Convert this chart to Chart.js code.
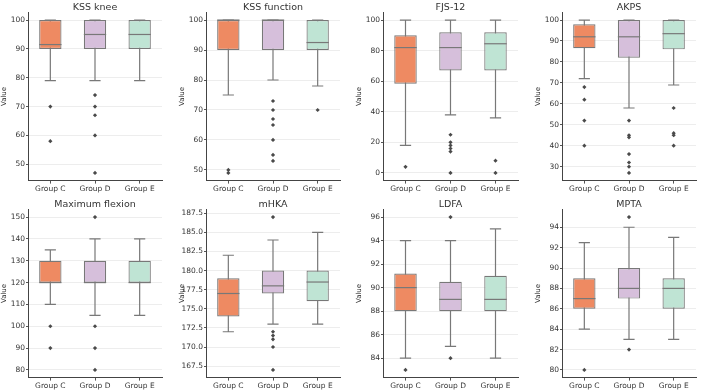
<!DOCTYPE html>
<html>
<head>
<meta charset="utf-8">
<script src="https://cdn.jsdelivr.net/npm/chart.js@4"></script>
<style>
  html, body { margin: 0; padding: 0; background: #fff; overflow: hidden; }
  #wrap { position: relative; width: 702px; height: 390px; }
  canvas { position: absolute; }
</style>
</head>
<body>
<div id="wrap"></div>
<script>
// groups on x axis
var groups = ['Group C', 'Group D', 'Group E'];

// one entry per panel (top row then bottom row)
var titles = ['KSS knee', 'KSS function', 'FJS-12', 'AKPS', 'Maximum flexion', 'mHKA', 'LDFA', 'MPTA'];
var tickSteps = [10, 10, 20, 10, 10, 2.5, 2, 2];

var q1 = [
	[90, 90, 90], [90, 90, 90], [58.3, 67, 67], [86.5, 82, 86],
	[120, 120, 120], [174, 177, 176], [88, 88, 88], [86, 87, 86]
];
var medians = [
	[91.5, 95, 95], [100, 100, 92.5], [82, 82, 84.5], [92, 92, 93.5],
	[120, 120, 120], [177, 178, 178.5], [90, 89, 89], [87, 88, 88]
];
var q3 = [
	[100, 100, 100], [100, 100, 100], [90, 92, 92], [98, 100, 100],
	[130, 130, 130], [179, 180, 180], [91.2, 90.5, 91], [89, 90, 89]
];
var whiskLow = [
	[79, 79, 79], [75, 80, 78], [18, 38, 36], [72, 58, 69],
	[110, 105, 105], [172, 173, 173], [84, 85, 84], [84, 83, 83]
];
var whiskHigh = [
	[100, 100, 100], [100, 100, 100], [100, 100, 100], [100, 100, 100],
	[135, 140, 140], [182, 184, 185], [94, 94, 95], [92.5, 94, 93]
];
var outliers = [
	[[70, 58], [74, 70, 67, 60, 47], []],
	[[50, 49], [73, 70, 67, 65, 60, 55, 53], [70]],
	[[4], [25, 20, 18, 16, 14, 0], [8, 0]],
	[[68, 62, 52, 40], [52, 45, 44, 36, 32, 30, 27], [58, 46, 45, 40]],
	[[100, 90], [150, 100, 90, 80], []],
	[[], [187, 172, 171.5, 171, 170, 167], []],
	[[83], [96, 84], []],
	[[80], [95, 82], []]
];

var boxColors = ['#ee8a62', '#d6bfdb', '#bfe4d4'];
var lineGray = '#787878';
var font = 'DejaVu Sans';

// panel placement: x of y-axis line, right end of plot, top of canvas
var axisX = [28, 206, 383, 562, 28, 206, 383, 562];
var plotRight = [166, 344, 522, 700, 166, 344, 522, 700];
var rowTop = [0, 0, 0, 0, 197, 197, 197, 197];
var yAxisW = 28;
var canvasH = 195;

// whiskers behind boxes, medians on top, title centred over the plot
var boxPlugin = {
	id: 'boxParts',
	beforeDatasetsDraw: function(chart, args, opts) {
		var p = opts.panel;
		var ctx = chart.ctx;
		var meta = chart.getDatasetMeta(0);
		var ys = chart.scales.y;
		ctx.save();
		ctx.strokeStyle = lineGray;
		ctx.lineWidth = 1.2;
		meta.data.forEach(function(bar, i) {
			var cx = bar.x;
			var half = bar.width / 4;
			var lo = ys.getPixelForValue(whiskLow[p][i]);
			var hi = ys.getPixelForValue(whiskHigh[p][i]);
			ctx.beginPath();
			ctx.moveTo(cx, lo); ctx.lineTo(cx, hi);
			ctx.moveTo(cx - half, lo); ctx.lineTo(cx + half, lo);
			ctx.moveTo(cx - half, hi); ctx.lineTo(cx + half, hi);
			ctx.stroke();
		});
		ctx.restore();
	},
	afterDatasetsDraw: function(chart, args, opts) {
		var p = opts.panel;
		var ctx = chart.ctx;
		var meta = chart.getDatasetMeta(0);
		var ys = chart.scales.y;
		ctx.save();
		ctx.strokeStyle = lineGray;
		ctx.lineWidth = 1.2;
		meta.data.forEach(function(bar, i) {
			var m = ys.getPixelForValue(medians[p][i]);
			ctx.beginPath();
			ctx.moveTo(bar.x - bar.width / 2, m);
			ctx.lineTo(bar.x + bar.width / 2, m);
			ctx.stroke();
		});
		ctx.restore();
	},
	afterDraw: function(chart, args, opts) {
		var a = chart.chartArea;
		var ctx = chart.ctx;
		ctx.save();
		ctx.fillStyle = '#333';
		ctx.font = '9.5px "' + font + '"';
		ctx.textAlign = 'center';
		ctx.textBaseline = 'alphabetic';
		ctx.fillText(titles[opts.panel], (a.left + a.right) / 2, 9.5);
		ctx.restore();
	}
};

var wrap = document.getElementById('wrap');

for (var p = 0; p < titles.length; p++) {
	var all = [];
	for (var g = 0; g < groups.length; g++) {
		all.push(whiskLow[p][g], whiskHigh[p][g], q1[p][g], q3[p][g]);
		all = all.concat(outliers[p][g]);
	}
	var dMin = Math.min.apply(null, all);
	var dMax = Math.max.apply(null, all);
	var pad = (dMax - dMin) * 0.05;

	var pts = [];
	for (var g = 0; g < groups.length; g++) {
		outliers[p][g].forEach(function(v) { pts.push({ x: groups[g], y: v }); });
	}

	var boxes = [];
	for (var g = 0; g < groups.length; g++) boxes.push([q1[p][g], q3[p][g]]);

	var canvas = document.createElement('canvas');
	var left = axisX[p] - yAxisW;
	var w = plotRight[p] - left;
	canvas.width = w;
	canvas.height = canvasH;
	canvas.style.left = left + 'px';
	canvas.style.top = rowTop[p] + 'px';
	canvas.style.width = w + 'px';
	canvas.style.height = canvasH + 'px';
	wrap.appendChild(canvas);

	(function(p, step, yMin, yMax) {
		new Chart(canvas.getContext('2d'), {
			type: 'bar',
			data: {
				labels: groups,
				datasets: [{
					data: boxes,
					backgroundColor: boxColors,
					borderColor: lineGray,
					borderWidth: 1.2,
					borderSkipped: false,
					barPercentage: 0.5,
					categoryPercentage: 1.0,
					order: 1
				}, {
					type: 'line',
					data: pts,
					showLine: false,
					pointStyle: 'rectRot',
					pointRadius: 2.1,
					pointBackgroundColor: '#4a4a4a',
					pointBorderColor: '#4a4a4a',
					pointBorderWidth: 0,
					order: 0
				}]
			},
			options: {
				responsive: false,
				animation: false,
				layout: { padding: { left: 0, right: 0, top: 12.4, bottom: 0 } },
				plugins: {
					boxParts: { panel: p },
					legend: { display: false },
					tooltip: { enabled: false },
					title: { display: false }
				},
				scales: {
					x: {
						grid: { drawOnChartArea: false, offset: false, tickLength: 3, tickColor: '#555' },
						border: { color: '#444', width: 1 },
						ticks: { color: '#333', padding: 1, maxRotation: 0, font: { family: font, size: 7.5 } },
						afterFit: function(s) { s.height = 14.4; }
					},
					y: {
						min: yMin,
						max: yMax,
						grid: { color: '#ededed', tickLength: 2, tickColor: '#555' },
						border: { color: '#444', width: 1 },
						title: {
							display: true, text: 'Value', color: '#333', padding: 0,
							font: { family: font, size: 7 }
						},
						ticks: {
							color: '#333', padding: 1,
							font: { family: font, size: 7.5 },
							callback: function(v) { return step % 1 ? v.toFixed(1) : v; }
						},
						afterBuildTicks: function(s) {
							var t = [];
							for (var v = Math.ceil(yMin / step) * step; v <= yMax + 1e-9; v += step) {
								t.push({ value: Math.round(v * 1000) / 1000 });
							}
							s.ticks = t;
						},
						afterFit: function(s) { s.width = yAxisW; }
					}
				}
			},
			plugins: [boxPlugin]
		});
	})(p, tickSteps[p], dMin - pad, dMax + pad);
}
</script>
</body>
</html>
